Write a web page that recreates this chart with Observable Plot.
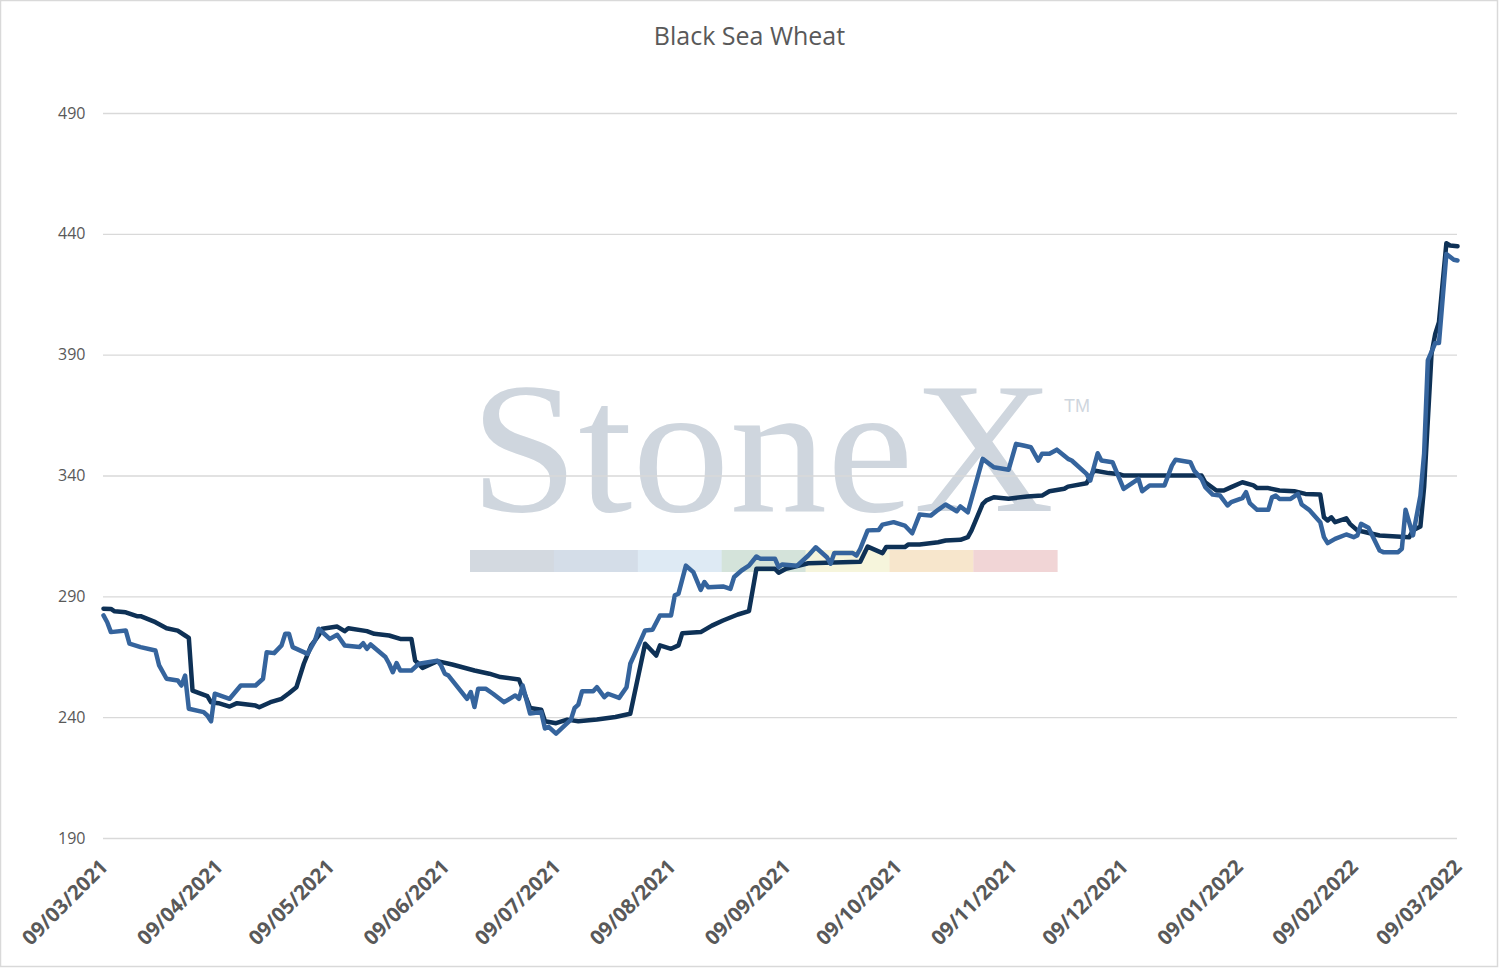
<!DOCTYPE html>
<html>
<head>
<meta charset="utf-8">
<script src="https://cdn.jsdelivr.net/npm/d3@7"></script>
<script src="https://cdn.jsdelivr.net/npm/@observablehq/plot@0.6"></script>
<style>
  html, body { margin: 0; padding: 0; background: #ffffff; }
  #chart { width: 1499px; height: 968px; }
</style>
</head>
<body>
<div id="chart"></div>
<script>
const chartTitle = "Black Sea Wheat";

const yTicks = [190, 240, 290, 340, 390, 440, 490];
const xTickLabels = ["2021-03-09","2021-04-09","2021-05-09","2021-06-09","2021-07-09","2021-08-09",
  "2021-09-09","2021-10-09","2021-11-09","2021-12-09","2022-01-09","2022-02-09","2022-03-09"];

// Series 1 (dark navy)
const darkDates = ["2021-03-09","2021-03-11","2021-03-12","2021-03-15","2021-03-18","2021-03-19","2021-03-23","2021-03-26","2021-03-29","2021-03-31",
  "2021-04-01","2021-04-02","2021-04-06","2021-04-07","2021-04-09","2021-04-12","2021-04-14","2021-04-19","2021-04-20","2021-04-23","2021-04-26","2021-04-28","2021-04-30",
  "2021-05-02","2021-05-04","2021-05-06","2021-05-07","2021-05-11","2021-05-13","2021-05-14","2021-05-19","2021-05-21","2021-05-25","2021-05-28","2021-05-31",
  "2021-06-01","2021-06-03","2021-06-07","2021-06-11","2021-06-17","2021-06-21","2021-06-24","2021-06-29",
  "2021-07-02","2021-07-05","2021-07-06","2021-07-09","2021-07-12","2021-07-15","2021-07-20","2021-07-25","2021-07-29",
  "2021-08-02","2021-08-05","2021-08-06","2021-08-09","2021-08-11","2021-08-12","2021-08-17","2021-08-20","2021-08-23","2021-08-27","2021-08-30",
  "2021-09-01","2021-09-06","2021-09-07","2021-09-09","2021-09-15","2021-09-29",
  "2021-10-01","2021-10-05","2021-10-06","2021-10-11","2021-10-12","2021-10-15","2021-10-20","2021-10-22","2021-10-26","2021-10-28","2021-10-29",
  "2021-11-01","2021-11-02","2021-11-04","2021-11-08","2021-11-13","2021-11-17","2021-11-19","2021-11-23","2021-11-24","2021-11-29",
  "2021-12-01","2021-12-05","2021-12-08","2021-12-09","2021-12-30","2021-12-31",
  "2022-01-03","2022-01-05","2022-01-07","2022-01-10","2022-01-13","2022-01-14","2022-01-17","2022-01-20","2022-01-24","2022-01-27","2022-01-31",
  "2022-02-01","2022-02-02","2022-02-03","2022-02-04","2022-02-07","2022-02-08","2022-02-10","2022-02-12","2022-02-16","2022-02-24","2022-02-25","2022-02-27","2022-02-28",
  "2022-03-02","2022-03-03","2022-03-04","2022-03-06","2022-03-07","2022-03-09"];
const darkValues = [285.1,285,284,283.6,282,282,279.5,277,276,274,
  273,251.2,248.9,246.4,246,244.6,246,245,244.3,246.4,247.8,250.1,252.6,
  262.3,269.9,274,276.8,277.7,275.8,277,275.8,274.7,274,272.6,272.6,
  263.7,260.6,263.4,262,259.5,258.2,256.8,255.8,
  244,243.3,238.5,237.7,239.2,238.5,239.2,240.3,241.6,
  270.6,265.7,269.9,268.5,269.9,274.9,275.4,278.1,280.2,282.7,284.1,
  301.6,301.6,300,301.6,303.9,304.5,
  310.8,308.1,310.6,310.6,311.7,311.7,312.6,313.3,313.6,314.7,317.5,
  328.5,329.9,331.2,330.6,331.5,331.9,333.7,334.7,335.6,337,
  342.3,341.2,340.7,340.2,340.2,337.4,
  334,334,335.4,337.4,336.1,335,335,334,333.7,332.6,332.3,
  322.9,321.6,322.9,320.9,322.5,320.2,317.5,316.8,315.4,314.7,317.5,319.1,335.4,
  390.6,398.8,403.6,436.3,435.4,435.1];

// Series 2 (medium blue)
const blueDates = ["2021-03-09","2021-03-10","2021-03-11","2021-03-15","2021-03-16","2021-03-19","2021-03-23","2021-03-24","2021-03-26","2021-03-29","2021-03-30","2021-03-31",
  "2021-04-01","2021-04-05","2021-04-06","2021-04-07","2021-04-08","2021-04-12","2021-04-15","2021-04-19","2021-04-21","2021-04-22","2021-04-24","2021-04-26","2021-04-27","2021-04-28","2021-04-29",
  "2021-05-03","2021-05-05","2021-05-06","2021-05-09","2021-05-11","2021-05-13","2021-05-17","2021-05-18","2021-05-19","2021-05-20","2021-05-24","2021-05-25","2021-05-26","2021-05-27","2021-05-28","2021-05-31",
  "2021-06-02","2021-06-07","2021-06-08","2021-06-09","2021-06-10","2021-06-15","2021-06-16","2021-06-17","2021-06-18","2021-06-20","2021-06-22","2021-06-25","2021-06-28","2021-06-29","2021-06-30",
  "2021-07-02","2021-07-05","2021-07-06","2021-07-07","2021-07-09","2021-07-13","2021-07-14","2021-07-15","2021-07-16","2021-07-19","2021-07-20","2021-07-22","2021-07-23","2021-07-26","2021-07-28","2021-07-29","2021-07-30",
  "2021-08-02","2021-08-04","2021-08-06","2021-08-09","2021-08-10","2021-08-11","2021-08-13","2021-08-15","2021-08-17","2021-08-18","2021-08-19","2021-08-23","2021-08-25","2021-08-26","2021-08-28","2021-08-30",
  "2021-09-01","2021-09-02","2021-09-06","2021-09-07","2021-09-08","2021-09-12","2021-09-15","2021-09-17","2021-09-20","2021-09-21","2021-09-22","2021-09-27","2021-09-28","2021-09-29",
  "2021-10-01","2021-10-04","2021-10-05","2021-10-08","2021-10-11","2021-10-13","2021-10-15","2021-10-18","2021-10-20","2021-10-22","2021-10-25","2021-10-26","2021-10-28",
  "2021-11-01","2021-11-04","2021-11-08","2021-11-10","2021-11-12","2021-11-14","2021-11-16","2021-11-17","2021-11-19","2021-11-21","2021-11-24","2021-11-25","2021-11-29","2021-11-30",
  "2021-12-02","2021-12-03","2021-12-06","2021-12-09","2021-12-13","2021-12-14","2021-12-16","2021-12-20","2021-12-22","2021-12-23","2021-12-27","2021-12-28","2021-12-30","2021-12-31",
  "2022-01-02","2022-01-04","2022-01-06","2022-01-07","2022-01-10","2022-01-11","2022-01-12","2022-01-14","2022-01-17","2022-01-18","2022-01-19","2022-01-20","2022-01-23","2022-01-25","2022-01-26","2022-01-28","2022-01-31",
  "2022-02-01","2022-02-02","2022-02-04","2022-02-07","2022-02-09","2022-02-10","2022-02-11","2022-02-13","2022-02-16","2022-02-17","2022-02-21","2022-02-22","2022-02-23","2022-02-25","2022-02-27","2022-02-28",
  "2022-03-01","2022-03-03","2022-03-04","2022-03-06","2022-03-08","2022-03-09"];
const blueValues = [282.3,279.5,275.4,276.1,270.6,269.2,267.8,261.6,256.1,255.4,253.3,257.4,
  243.7,242.3,240.9,238.5,249.9,247.8,253.3,253.3,256.1,267.1,266.7,269.9,274.7,274.7,269.2,
  266.4,271.9,276.8,272.6,274.3,269.9,269.2,270.8,268.5,270.3,265.1,262.3,258.8,262.6,259.5,259.5,
  262.3,263.6,261.6,258.2,257.4,247.8,250.6,244.4,252,252,249.9,246.4,249.2,247.8,253.3,
  241.7,242.3,235.5,236.2,233.4,239.2,244,245.4,250.9,250.9,252.6,248.5,249.9,248.2,252.6,262.3,265.7,
  276.1,276.4,282.3,282.3,290.6,291.3,302.9,300.2,292.9,296.1,294,294.3,293.3,298.2,300.9,302.9,
  306.7,305.8,305.8,302.3,303.4,302.9,307.1,310.5,306.4,303.7,308.1,308.1,307.1,309.9,
  317.5,317.7,319.9,320.9,319.5,316.3,324.1,323.6,326,328.2,325.4,327.4,325,
  347.1,343.6,342.6,353.3,352.6,351.9,346.4,349.2,349.2,350.9,347.1,346.4,340.9,338.1,
  349.4,346.4,345.7,334.7,338.8,333.7,336.1,336.1,344.3,346.7,345.7,342.3,338.8,335.4,
  332.3,331.9,327.8,329.2,330.8,333.3,328.8,326,326,331.2,331.9,330.5,330.5,332.6,328.2,326,320.9,
  314.7,312.2,314,315.8,314.7,315.4,320.2,318.6,309.2,308.5,308.5,309.9,326,315.4,331.9,349.2,
  387.8,395,395,431.9,429.5,429.2];

const parse = d3.utcParse("%Y-%m-%d");
const dark = darkDates.map((d, i) => ({date: parse(d), value: darkValues[i]}));
const blue = blueDates.map((d, i) => ({date: parse(d), value: blueValues[i]}));
const xTicks = xTickLabels.map(parse);

const fmt = d3.utcFormat("%d/%m/%Y");

const plot = Plot.plot({
  width: 1499,
  height: 968,
  marginLeft: 103,
  marginRight: 42,
  marginTop: 113,
  marginBottom: 130,
  style: {fontFamily: "'Open Sans', sans-serif", background: "#ffffff", color: "#595959"},
  x: {type: "utc", domain: [xTicks[0], xTicks[xTicks.length - 1]]},
  y: {domain: [190, 490]},
  marks: [
    Plot.gridY(yTicks, {stroke: "#d9d9d9", strokeOpacity: 1, strokeWidth: 1.3}),
    Plot.axisY(yTicks, {tickSize: 0, tickPadding: 18, fontSize: 16, fill: "#595959", label: null}),
    Plot.axisX(xTicks, {tickSize: 0, tickPadding: 25, dx: 1, tickRotate: -45, tickFormat: fmt,
      fontSize: 20.5, fontWeight: "bold", fill: "#595959", label: null}),
    Plot.lineY(dark, {x: "date", y: "value", stroke: "#0e3156", strokeWidth: 4.5, strokeLinejoin: "round", strokeLinecap: "round"}),
    Plot.lineY(blue, {x: "date", y: "value", stroke: "#35649d", strokeWidth: 4.5, strokeLinejoin: "round", strokeLinecap: "round"})
  ]
});

const svg = d3.select(plot);

// Watermark (behind grid and lines)
const wm = svg.insert("g", "g").attr("class", "watermark");
wm.append("text")
  .attr("x", 470).attr("y", 511)
  .attr("text-anchor", "start")
  .attr("textLength", 584).attr("lengthAdjust", "spacingAndGlyphs")
  .attr("font-family", "'Liberation Serif', 'DejaVu Serif', serif")
  .attr("font-size", 186)
  .attr("fill", "#cfd6de")
  .text("StoneX");
wm.append("text")
  .attr("x", 1064).attr("y", 412)
  .attr("text-anchor", "start")
  .attr("font-family", "'Liberation Sans', sans-serif")
  .attr("font-size", 18)
  .attr("fill", "#cfd6de")
  .text("TM");
const bandColors = ["#d3d9e0", "#d4dde8", "#deeaf4", "#d4e3da", "#f6f5dc", "#f7e6cc", "#f1d5d6"];
bandColors.forEach((c, i) => {
  wm.append("rect")
    .attr("x", 470 + i * 83.9).attr("y", 550)
    .attr("width", 84.2).attr("height", 22)
    .attr("fill", c);
});

// Title
svg.append("text")
  .attr("x", 749.5).attr("y", 45)
  .attr("text-anchor", "middle")
  .attr("font-family", "'Open Sans', sans-serif")
  .attr("font-size", 25)
  .attr("fill", "#595959")
  .text(chartTitle);

// Chart border
svg.append("rect")
  .attr("x", 0.5).attr("y", 0.5).attr("width", 1497).attr("height", 966)
  .attr("fill", "none").attr("stroke", "#d9d9d9").attr("stroke-width", 1.5);

document.getElementById("chart").appendChild(plot);
</script>
</body>
</html>
